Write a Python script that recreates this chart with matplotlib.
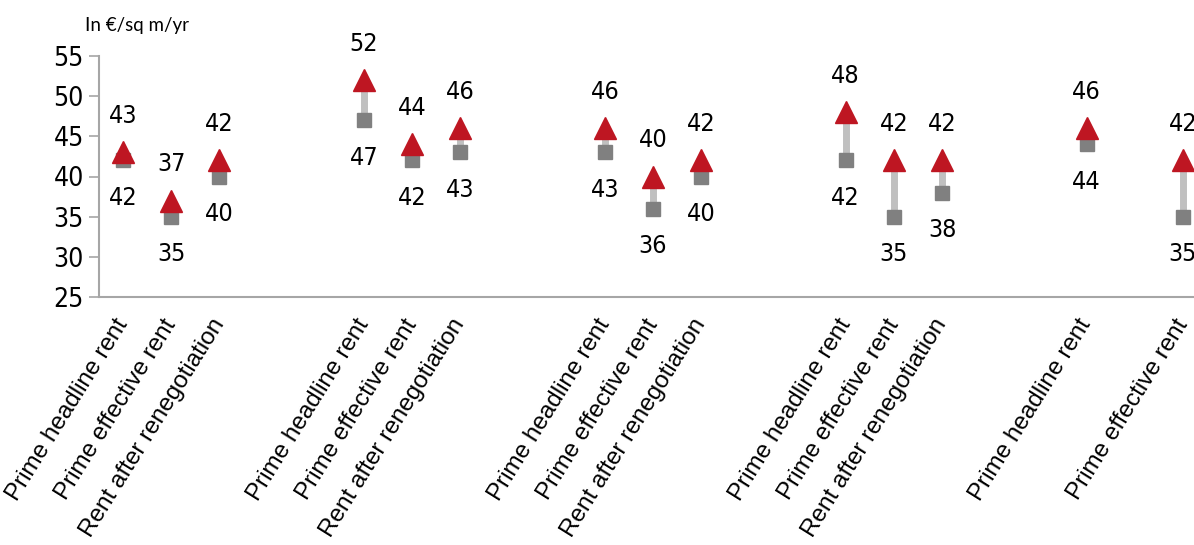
import matplotlib
matplotlib.use("Agg")
import matplotlib.pyplot as plt

# slot labels, blank strings are the gaps between the groups
labels = ["Prime headline rent", "Prime effective rent", "Rent after renegotiation", "", "",
          "Prime headline rent", "Prime effective rent", "Rent after renegotiation", "", "",
          "Prime headline rent", "Prime effective rent", "Rent after renegotiation", "", "",
          "Prime headline rent", "Prime effective rent", "Rent after renegotiation", "", "",
          "Prime headline rent", "", "Prime effective rent"]

# slots that carry a value
pos = [0, 1, 2, 5, 6, 7, 10, 11, 12, 15, 16, 17, 20, 22]
high = [43, 37, 42, 52, 44, 46, 46, 40, 42, 48, 42, 42, 46, 42]   # triangles
low = [42, 35, 40, 47, 42, 43, 43, 36, 40, 42, 35, 38, 44, 35]    # squares

RED = "#be1622"
GREY = "#808080"
LIGHT = "#c0c0c0"
AXC = "#a6a6a6"
NARROW = dict(family="DejaVu Sans", stretch="condensed")

fig = plt.figure(figsize=(11.94, 5.45), dpi=100)
ax = fig.add_axes([99 / 1194, 1 - 297 / 545, 1108 / 1194, 241 / 545])

ax.vlines(pos, low, high, color=LIGHT, lw=5, zorder=1)
ax.plot(pos, low, "s", ms=10, color=GREY, lw=0, zorder=2)
ax.plot(pos, high, "^", ms=16, color=RED, lw=0, zorder=3)

for x, h, l in zip(pos, high, low):
    ax.annotate(str(h), (x, h), xytext=(0, 26), textcoords="offset points",
                ha="center", va="center", fontsize=18, **NARROW)
    ax.annotate(str(l), (x, l), xytext=(0, -27), textcoords="offset points",
                ha="center", va="center", fontsize=18, **NARROW)

ax.set_ylim(25, 55)
ax.set_yticks(range(25, 56, 5))
ax.set_xlim(-0.5, 22.5)
ax.set_xticks(range(len(labels)))
ax.set_xticklabels(labels, rotation=58, ha="right", va="center", rotation_mode="anchor",
                   fontsize=17.5, family="Liberation Sans")
for t in ax.get_yticklabels():
    t.set_family("DejaVu Sans")
    t.set_stretch("condensed")
    t.set_fontsize(19)

for s in ["top", "right"]:
    ax.spines[s].set_visible(False)
for s in ["left", "bottom"]:
    ax.spines[s].set_color(AXC)
    ax.spines[s].set_linewidth(1.5)
ax.tick_params(axis="y", direction="out", length=7, width=1.2, color=AXC, pad=4)
ax.tick_params(axis="x", length=0, pad=17)

fig.text(85 / 1194, 1 - 26 / 545, "In €/sq m/yr", fontsize=13.5, va="center",
         family="Lato")

fig.savefig("out.png", dpi=100)
